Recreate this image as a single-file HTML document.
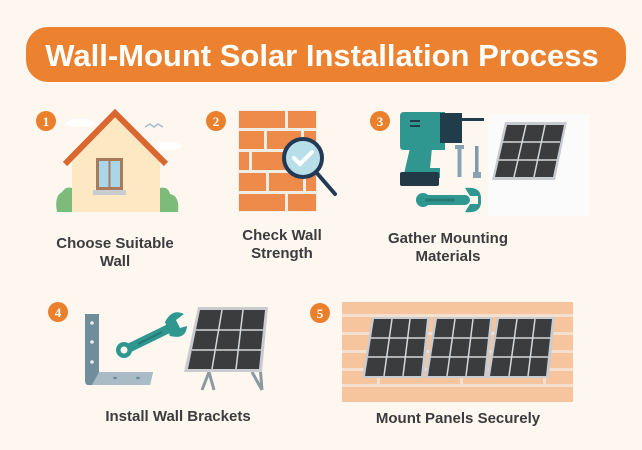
<!DOCTYPE html>
<html><head><meta charset="utf-8"><style>
html,body{margin:0;padding:0;background:#fdf7f0;}
svg{display:block;}
text{font-family:"Liberation Sans",sans-serif;}
.lb{font-size:15px;font-weight:bold;fill:#3c3c3e;text-anchor:middle;}
.num{font-family:"Liberation Serif",serif;font-size:13px;font-weight:bold;fill:#fff;text-anchor:middle;}
</style></head><body>
<svg width="642" height="450" viewBox="0 0 642 450" xmlns="http://www.w3.org/2000/svg">
<rect width="642" height="450" fill="#fdf7f0"/>
<rect x="26" y="27" width="600" height="55" rx="22" fill="#ec8130"/>
<text x="322" y="66" font-size="31" font-weight="bold" fill="#fff" text-anchor="middle">Wall-Mount Solar Installation Process</text>

<!-- step 1 -->
<circle cx="46" cy="121" r="10" fill="#ea7f2c"/><text class="num" x="46" y="126">1</text>
<ellipse cx="80" cy="123" rx="14" ry="4" fill="#fff"/>
<ellipse cx="168" cy="146" rx="13" ry="4" fill="#fff"/>
<path d="M145 127 l5 -3 l4 3 l4 -3 l5 3" stroke="#a9bccb" stroke-width="1.5" fill="none"/>
<path d="M115 116 L72 158 L72 212 L160 212 L160 158 Z" fill="#fde8c4"/>
<polyline points="65,164 115,113 166,164" fill="none" stroke="#d9672f" stroke-width="6" stroke-linejoin="miter"/>
<rect x="96" y="158" width="27" height="32" fill="#a97a5c"/>
<rect x="99" y="161" width="9.5" height="26" fill="#a9d6e8"/><rect x="110.5" y="161" width="9.5" height="26" fill="#a9d6e8"/>
<rect x="93" y="190" width="33" height="5" fill="#c9ccd0"/>
<path d="M57 212 Q54 196 62 192 Q66 186 72 188 L72 212 Z" fill="#7dbb7b"/>
<path d="M160 212 L160 188 Q168 186 170 194 Q180 196 178 212 Z" fill="#7dbb7b"/>
<text class="lb" x="115" y="248">Choose Suitable</text>
<text class="lb" x="115" y="266">Wall</text>

<!-- step 2 -->
<circle cx="216" cy="121" r="10" fill="#ea7f2c"/><text class="num" x="216" y="126">2</text>
<rect x="238" y="110" width="79" height="102" rx="2" fill="#f0ece6"/>
<g fill="#ee8a4a">
<rect x="239" y="111" width="46" height="17"/><rect x="288" y="111" width="28" height="17"/>
<rect x="239" y="131" width="25" height="18"/><rect x="267" y="131" width="34" height="18"/><rect x="304" y="131" width="12" height="18"/>
<rect x="239" y="152" width="10" height="18"/><rect x="252" y="152" width="40" height="18"/><rect x="295" y="152" width="21" height="18"/>
<rect x="239" y="173" width="27" height="18"/><rect x="269" y="173" width="34" height="18"/><rect x="306" y="173" width="10" height="18"/>
<rect x="239" y="194" width="46" height="17"/><rect x="288" y="194" width="28" height="17"/>
</g>
<line x1="316" y1="172" x2="335" y2="194" stroke="#223a55" stroke-width="4" stroke-linecap="round"/>
<circle cx="303" cy="158" r="19" fill="#b8dfe8" stroke="#223a55" stroke-width="4"/>
<path d="M294 158 l6 6 l12 -12" stroke="#fff" stroke-width="4" fill="none" stroke-linecap="round"/>
<text class="lb" x="282" y="240">Check Wall</text>
<text class="lb" x="282" y="258">Strength</text>

<!-- step 3 -->
<circle cx="380" cy="121" r="10" fill="#ea7f2c"/><text class="num" x="380" y="126">3</text>
<rect x="488" y="114" width="102" height="102" fill="#fbfbfb"/>
<path d="M404 112 L445 112 L445 150 L404 150 Q400 150 400 146 L400 116 Q400 112 404 112 Z" fill="#2f9690"/>
<rect x="440" y="113" width="22" height="30" fill="#213c4a"/>
<rect x="462" y="118" width="22" height="3" fill="#213c4a"/>
<path d="M410 148 L432 148 L430 168 L440 168 L440 178 L403 178 Z" fill="#2f9690"/>
<rect x="400" y="172" width="39" height="14" rx="2" fill="#223a48"/>
<rect x="410" y="120" width="10" height="2" fill="#213c4a"/><rect x="410" y="125" width="10" height="2" fill="#213c4a"/>
<rect x="455" y="145" width="9" height="4" fill="#8aa3b2"/><rect x="457.5" y="149" width="4" height="28" fill="#8aa3b2"/>
<rect x="475" y="146" width="3.5" height="26" fill="#7f99aa"/><rect x="473" y="172" width="8" height="6" fill="#8aa3b2"/>
<path d="M505 122 L567 122 L555 180 L492 180 Z" fill="#c8ccd0"/>
<path d="M507 125 L564 125 L553 177 L495 177 Z" fill="#3a3c3e"/>
<g stroke="#d5d8da" stroke-width="1.5"><line x1="526" y1="125" x2="514" y2="177"/><line x1="545" y1="125" x2="534" y2="177"/><line x1="503" y1="142" x2="560" y2="142"/><line x1="499" y1="160" x2="557" y2="160"/></g>
<rect x="420" y="195" width="50" height="10" rx="5" fill="#2f9690"/>
<circle cx="423" cy="200" r="7" fill="#2f9690"/>
<path d="M465 188 Q482 186 481 200 Q482 214 465 212 L470 204 L478 204 L478 196 L470 196 Z" fill="#2f9690"/>
<rect x="425" y="198.5" width="30" height="3" rx="1.5" fill="#257a75"/>
<text class="lb" x="448" y="243">Gather Mounting</text>
<text class="lb" x="448" y="261">Materials</text>

<!-- step 4 -->
<circle cx="58" cy="312" r="10" fill="#ea7f2c"/><text class="num" x="58" y="317">4</text>
<path d="M85 314 L99 314 L99 372 L153 372 L150 385 L88 385 Q85 385 85 380 Z" fill="#6f8d9a"/>
<path d="M99 372 L153 372 L150 385 L92 385 Z" fill="#a9bcc5"/>
<circle cx="92" cy="323" r="1.8" fill="#e9eef0"/><circle cx="92" cy="342" r="1.8" fill="#e9eef0"/><circle cx="92" cy="362" r="1.8" fill="#e9eef0"/>
<ellipse cx="115" cy="378" rx="2" ry="1.3" fill="#6f8d9a"/><ellipse cx="138" cy="378" rx="2" ry="1.3" fill="#6f8d9a"/>
<line x1="125" y1="350" x2="170" y2="328" stroke="#2f9690" stroke-width="9" stroke-linecap="round"/>
<circle cx="124" cy="350" r="8" fill="#2f9690"/><circle cx="124" cy="350" r="3.5" fill="#fdf7f0"/>
<path d="M165 322 Q172 308 184 314 L176 320 L180 328 L187 326 Q186 340 170 336 Z" fill="#2f9690"/>
<line x1="138" y1="344" x2="162" y2="332" stroke="#257a75" stroke-width="2"/>
<g stroke="#8b9aa2" stroke-width="3"><line x1="209" y1="372" x2="202" y2="390"/><line x1="209" y1="372" x2="214" y2="390"/><line x1="258" y1="340" x2="262" y2="390"/><line x1="252" y1="372" x2="262" y2="390"/></g>
<path d="M198 307 L268 307 L262 372 L184 372 Z" fill="#c8ccd0"/>
<path d="M200 310 L265 310 L259 369 L188 369 Z" fill="#3a3c3e"/>
<g stroke="#d5d8da" stroke-width="1.5"><line x1="222" y1="310" x2="212" y2="369"/><line x1="243" y1="310" x2="236" y2="369"/><line x1="196" y1="330" x2="263" y2="330"/><line x1="192" y1="350" x2="261" y2="350"/></g>
<text class="lb" x="178" y="421">Install Wall Brackets</text>

<!-- step 5 -->
<circle cx="320" cy="313" r="10" fill="#ea7f2c"/><text class="num" x="320" y="318">5</text>
<rect x="342" y="302" width="231" height="100" fill="#f3dfcd"/>
<g fill="#f6c49d">
<rect x="342" y="302" width="231" height="12"/>
<rect x="342" y="317" width="60" height="15"/><rect x="405" y="317" width="80" height="15"/><rect x="488" y="317" width="85" height="15"/>
<rect x="342" y="335" width="35" height="15"/><rect x="380" y="335" width="80" height="15"/><rect x="463" y="335" width="80" height="15"/><rect x="546" y="335" width="27" height="15"/>
<rect x="342" y="353" width="60" height="15"/><rect x="405" y="353" width="80" height="15"/><rect x="488" y="353" width="85" height="15"/>
<rect x="342" y="371" width="35" height="13"/><rect x="380" y="371" width="80" height="13"/><rect x="463" y="371" width="80" height="13"/><rect x="546" y="371" width="27" height="13"/>
<rect x="342" y="387" width="231" height="15"/>
</g>
<g>
<path d="M372 317 L430 317 L424 378 L362 378 Z" fill="#c8ccd0"/><path d="M374 319 L427 319 L421 376 L365 376 Z" fill="#3a3c3e"/>
<path d="M435 317 L493 317 L487 378 L425 378 Z" fill="#c8ccd0"/><path d="M437 319 L490 319 L484 376 L428 376 Z" fill="#3a3c3e"/>
<path d="M497 317 L555 317 L549 378 L487 378 Z" fill="#c8ccd0"/><path d="M499 319 L552 319 L546 376 L490 376 Z" fill="#3a3c3e"/>
</g>
<g stroke="#d5d8da" stroke-width="1.5">
<line x1="392" y1="319" x2="384" y2="376"/><line x1="410" y1="319" x2="403" y2="376"/><line x1="371" y1="338" x2="425" y2="338"/><line x1="368" y1="357" x2="423" y2="357"/>
<line x1="455" y1="319" x2="447" y2="376"/><line x1="473" y1="319" x2="466" y2="376"/><line x1="434" y1="338" x2="488" y2="338"/><line x1="431" y1="357" x2="486" y2="357"/>
<line x1="517" y1="319" x2="509" y2="376"/><line x1="535" y1="319" x2="528" y2="376"/><line x1="496" y1="338" x2="550" y2="338"/><line x1="493" y1="357" x2="548" y2="357"/>
</g>
<text class="lb" x="458" y="423">Mount Panels Securely</text>
</svg>
</body></html>
